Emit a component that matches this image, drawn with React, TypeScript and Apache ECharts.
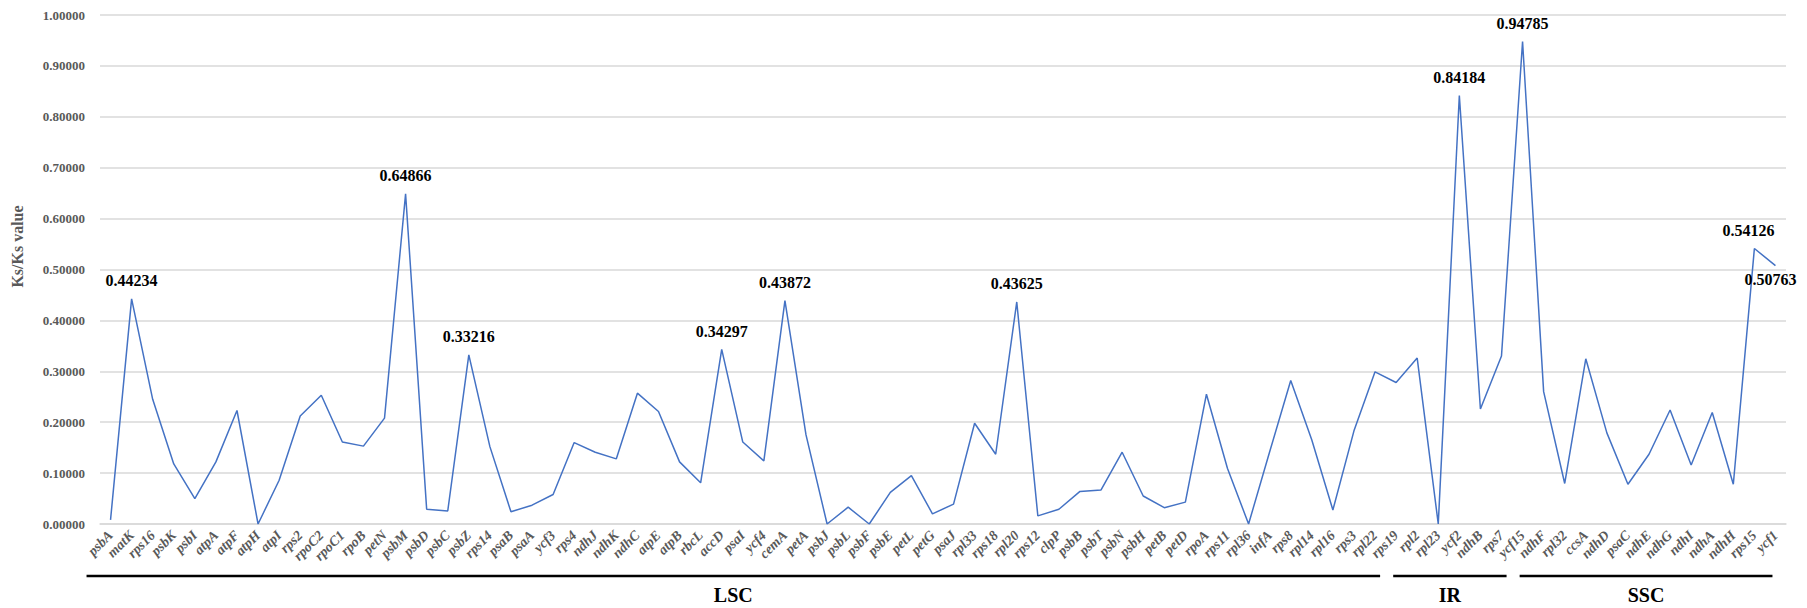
import React, { useEffect, useRef } from "react";
import * as echarts from "echarts";

// Protein-coding genes along the plastome, in map order
const genes = [
  "psbA", "matK", "rps16", "psbK", "psbI", "atpA", "atpF", "atpH", "atpI", "rps2",
  "rpoC2", "rpoC1", "rpoB", "petN", "psbM", "psbD", "psbC", "psbZ", "rps14", "psaB",
  "psaA", "ycf3", "rps4", "ndhJ", "ndhK", "ndhC", "atpE", "atpB", "rbcL", "accD",
  "psaI", "ycf4", "cemA", "petA", "psbJ", "psbL", "psbF", "psbE", "petL", "petG",
  "psaJ", "rpl33", "rps18", "rpl20", "rps12", "clpP", "psbB", "psbT", "psbN", "psbH",
  "petB", "petD", "rpoA", "rps11", "rpl36", "infA", "rps8", "rpl14", "rpl16", "rps3",
  "rpl22", "rps19",
  "rpl2", "rpl23", "ycf2", "ndhB", "rps7", "ycf15",
  "ndhF", "rpl32", "ccsA", "ndhD", "psaC", "ndhE", "ndhG", "ndhI", "ndhA", "ndhH",
  "rps15", "ycf1",
];

// Ka/Ks ratio per gene
const ratios = [
  0.008, 0.44234, 0.245, 0.118, 0.05, 0.122, 0.223, 0.0, 0.086, 0.212,
  0.253, 0.161, 0.153, 0.208, 0.64866, 0.029, 0.0255, 0.33216, 0.152, 0.024,
  0.037, 0.058, 0.16, 0.141, 0.128, 0.257, 0.221, 0.122, 0.081, 0.34297,
  0.161, 0.124, 0.43872, 0.175, 0.0, 0.033, 0.0, 0.062, 0.095, 0.02,
  0.039, 0.198, 0.137, 0.43625, 0.016, 0.029, 0.064, 0.067, 0.141, 0.055,
  0.032, 0.043, 0.255, 0.109, 0.0, 0.142, 0.282, 0.165, 0.0275, 0.183,
  0.299, 0.278,
  0.326, 0.0, 0.84184, 0.226, 0.33, 0.94785,
  0.26, 0.0796, 0.3245, 0.179, 0.078, 0.137, 0.224, 0.116, 0.219, 0.078,
  0.54126, 0.50763,
];

// Genes whose value is printed above the line
const labelledTop = ["matK", "psbM", "psbZ", "accD", "cemA", "rpl20", "ycf2", "ycf15", "rps15"];
// Genes whose value is printed below the line
const labelledBottom = ["ycf1"];

const yTicks = [0, 0.1, 0.2, 0.3, 0.4, 0.5, 0.6, 0.7, 0.8, 0.9, 1.0];

// Plastome regions, given by first and last gene
const regionNames = ["LSC", "IR", "SSC"];
const regionFirst = ["psbA", "rpl2", "ndhF"];
const regionLast = ["rps19", "ycf15", "ycf1"];

const SERIF = "Liberation Serif";
const GRAY = "#595959";

export default function App() {
  const ref = useRef<HTMLDivElement>(null);

  useEffect(() => {
    if (!ref.current) return;
    const chart = echarts.init(ref.current, null, { renderer: "svg" });

    const valueLabel = {
      show: true,
      fontFamily: SERIF,
      fontWeight: "bold",
      fontSize: 16,
      color: "#000000",
      formatter: (p: any) => Number(p.value).toFixed(5),
    };

    const data = genes.map((g, i) => {
      const v = ratios[i];
      if (labelledTop.includes(g)) {
        const nearEdge = i >= genes.length - 2;
        return {
          value: v,
          label: {
            ...valueLabel,
            position: "top",
            distance: 10,
            offset: nearEdge ? [-6, 0] : [0, 0],
          },
        };
      }
      if (labelledBottom.includes(g)) {
        return {
          value: v,
          label: { ...valueLabel, position: "bottom", distance: 6, offset: [-5, 0] },
        };
      }
      return v;
    });

    chart.setOption({
      animation: false,
      backgroundColor: "#ffffff",
      grid: { left: 100, right: 21, top: 15, bottom: 84, containLabel: false },
      xAxis: {
        type: "category",
        data: genes,
        boundaryGap: true,
        axisLine: { show: true, lineStyle: { color: "#d9d9d9", width: 1.5 } },
        axisTick: { show: false },
        axisLabel: {
          interval: 0,
          rotate: 45,
          margin: 9,
          fontFamily: SERIF,
          fontStyle: "italic",
          fontWeight: "bold",
          fontSize: 14,
          color: GRAY,
        },
      },
      yAxis: {
        type: "value",
        min: yTicks[0],
        max: yTicks[yTicks.length - 1],
        interval: 0.1,
        name: "Ks/Ks value",
        nameLocation: "middle",
        nameGap: 75,
        nameTextStyle: {
          fontFamily: SERIF,
          fontWeight: "bold",
          fontSize: 16,
          color: GRAY,
          padding: [0, 0, 0, 46],
        },
        axisLine: { show: false },
        axisTick: { show: false },
        splitLine: { show: true, lineStyle: { color: "#d9d9d9", width: 1.5 } },
        axisLabel: {
          margin: 15,
          fontFamily: SERIF,
          fontWeight: "bold",
          fontSize: 13,
          color: GRAY,
          formatter: (v: number) => v.toFixed(5),
        },
      },
      series: [
        {
          type: "line",
          data,
          symbol: "circle",
          symbolSize: 0.001,
          showSymbol: true,
          showAllSymbol: true,
          itemStyle: { color: "#4472C4" },
          lineStyle: { color: "#4472C4", width: 1.5 },
          label: { show: false },
        },
      ],
    });

    // Region bars and names underneath the gene labels
    const xOf = (g: string) => chart.convertToPixel({ xAxisIndex: 0 }, g) as number;
    const barY = 576;
    const graphics: any[] = [];
    regionNames.forEach((name, k) => {
      const isLast = k === regionNames.length - 1;
      const x1 = xOf(regionFirst[k]) - 24;
      const x2 = xOf(regionLast[k]) - (isLast ? 3 : 16);
      graphics.push({
        type: "line",
        shape: { x1, y1: barY, x2, y2: barY },
        style: { stroke: "#000000", lineWidth: 2.5 },
      });
      graphics.push({
        type: "text",
        x: (x1 + x2) / 2,
        y: 595,
        style: {
          text: name,
          fontFamily: SERIF,
          fontWeight: "bold",
          fontSize: 20,
          fill: "#000000",
          align: "center",
          verticalAlign: "middle",
        },
      });
    });
    chart.setOption({ graphic: graphics });

    return () => chart.dispose();
  }, []);

  return (
    <div
      ref={ref}
      style={{ position: "absolute", left: 0, top: 0, width: 1807, height: 608, background: "#fff" }}
    />
  );
}
